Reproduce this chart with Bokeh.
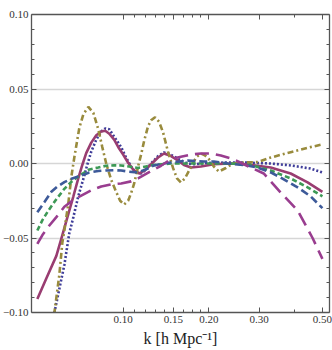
from bokeh.plotting import figure
from bokeh.models import FixedTicker, LogAxis, LinearAxis, CustomJSTickFormatter, Range1d
from bokeh.embed import file_html
from bokeh.resources import INLINE

# ---- data ----
k_solid = [0.0500, 0.0538, 0.0583, 0.0612, 0.0642, 0.0669, 0.0696, 0.0719, 0.0742, 0.0773,
           0.0805, 0.0838, 0.0865, 0.0894, 0.0930, 0.0968, 0.1000, 0.1041, 0.1084, 0.1137,
           0.1184, 0.1253, 0.1326, 0.1391, 0.1472, 0.1557, 0.1634, 0.1729, 0.1874, 0.2080,
           0.2386, 0.2735, 0.3292, 0.3868, 0.4436, 0.5000]
y_solid = [-0.091, -0.077, -0.062, -0.048, -0.034, -0.022, -0.010, -0.001, 0.007, 0.014,
           0.019, 0.0215, 0.022, 0.020, 0.016, 0.010, 0.006, 0.0005, -0.004, -0.0067,
           -0.005, -0.0005, 0.004, 0.0067, 0.005, 0.002, -0.001, -0.0027, -0.002, -0.0005,
           0.0, -0.0007, -0.0027, -0.0067, -0.0127, -0.019]

k_dotted = [0.0551, 0.0574, 0.0602, 0.0622, 0.0647, 0.0669, 0.0696, 0.0731, 0.0748, 0.0773,
            0.0805, 0.0838, 0.0865, 0.0894, 0.0930, 0.0968, 0.0984, 0.1024, 0.1066, 0.1093,
            0.1156, 0.1203, 0.1253, 0.1326, 0.1391, 0.1448, 0.1532, 0.1595, 0.1688, 0.1771,
            0.1874, 0.2080, 0.2586, 0.3292, 0.3868, 0.4092, 0.4543, 0.5000]
y_dotted = [-0.116, -0.100, -0.081, -0.068, -0.047, -0.036, -0.022, -0.008, -0.001, 0.008,
            0.016, 0.0215, 0.0235, 0.023, 0.018, 0.013, 0.011, 0.004, -0.002, -0.0047,
            -0.0067, -0.004, 0.000, 0.005, 0.0074, 0.0065, 0.004, 0.002, 0.0, -0.0005,
            0.0, 0.0005, 0.0007, 0.0, -0.0013, -0.002, -0.0034, -0.006]

k_olive = [0.0560, 0.0574, 0.0597, 0.0612, 0.0622, 0.0642, 0.0658, 0.0674, 0.0702, 0.0725,
           0.0755, 0.0786, 0.0818, 0.0845, 0.0872, 0.0908, 0.0945, 0.0976, 0.1008, 0.1041,
           0.1066, 0.1093, 0.1128, 0.1156, 0.1184, 0.1223, 0.1253, 0.1294, 0.1336, 0.1380,
           0.1436, 0.1496, 0.1545, 0.1595, 0.1647, 0.1701, 0.1757, 0.1800, 0.1874, 0.1935,
           0.1998, 0.2080, 0.2166, 0.2292, 0.2425, 0.2692, 0.2965, 0.3292, 0.3868, 0.4543,
           0.5000]
y_olive = [-0.120, -0.100, -0.075, -0.053, -0.045, -0.027, -0.009, 0.004, 0.024, 0.033,
           0.038, 0.034, 0.023, 0.011, 0.0, -0.011, -0.019, -0.025, -0.0275, -0.025,
           -0.020, -0.0134, -0.002, 0.006, 0.015, 0.025, 0.029, 0.031, 0.028, 0.021,
           0.008, -0.003, -0.010, -0.0127, -0.010, -0.005, 0.000, 0.004, 0.0067, 0.0055,
           0.003, -0.002, -0.0054, -0.003, 0.0, 0.0007, 0.001, 0.004, 0.0076, 0.011,
           0.0128]

k_green = [0.0500, 0.0521, 0.0547, 0.0583, 0.0622, 0.0669, 0.0713, 0.0761, 0.0818, 0.0872,
           0.0930, 0.0984, 0.1049, 0.1128, 0.1203, 0.1283, 0.1472, 0.1829, 0.2386, 0.2803,
           0.3292, 0.3868, 0.4436, 0.5000]
y_green = [-0.045, -0.038, -0.0315, -0.024, -0.017, -0.011, -0.0074, -0.004, -0.0027, -0.0015,
           -0.0012, -0.0013, -0.002, -0.003, -0.002, -0.001, 0.0, 0.0, 0.0, -0.001,
           -0.0047, -0.010, -0.016, -0.022]

k_dashed = [0.0500, 0.0529, 0.0560, 0.0588, 0.0622, 0.0663, 0.0713, 0.0761, 0.0818, 0.0872,
            0.0930, 0.0984, 0.1049, 0.1128, 0.1203, 0.1283, 0.1380, 0.1472, 0.1688, 0.1920,
            0.2080, 0.2328, 0.2649, 0.2965, 0.3292, 0.3568, 0.4092, 0.4543, 0.5000]
y_dashed = [-0.0327, -0.026, -0.019, -0.0155, -0.0125, -0.010, -0.008, -0.006, -0.005, -0.0047,
            -0.0045, -0.0047, -0.0055, -0.006, -0.004, -0.0013, 0.0, 0.0007, 0.002, 0.0013,
            0.0013, 0.0, -0.001, -0.0027, -0.006, -0.0094, -0.016, -0.022, -0.030]

k_long = [0.0500, 0.0521, 0.0551, 0.0583, 0.0622, 0.0663, 0.0713, 0.0773, 0.0838, 0.0908,
          0.0984, 0.1066, 0.1128, 0.1203, 0.1283, 0.1358, 0.1472, 0.1595, 0.1729, 0.1874,
          0.2031, 0.2201, 0.2386, 0.2586, 0.2803, 0.3112, 0.3292, 0.3568, 0.4092, 0.4617,
          0.5000]
y_long = [-0.054, -0.048, -0.0416, -0.036, -0.029, -0.025, -0.0215, -0.018, -0.0154, -0.014,
          -0.0134, -0.012, -0.010, -0.007, -0.004, -0.0015, 0.003, 0.0045, 0.006, 0.0067,
          0.0067, 0.0054, 0.0035, 0.0005, -0.0027, -0.0067, -0.012, -0.0195, -0.0315, -0.050,
          -0.064]

x_major = [0.10, 0.15, 0.20, 0.30, 0.50]
x_minor = [0.11, 0.12, 0.13, 0.14, 0.1625, 0.175, 0.1875, 0.40]
y_major = [-0.10, -0.05, 0.0, 0.05, 0.10]
y_minor = [-0.09, -0.08, -0.07, -0.06, -0.04, -0.03, -0.02, -0.01,
           0.01, 0.02, 0.03, 0.04, 0.06, 0.07, 0.08, 0.09]
y_grid = [-0.05, 0.0, 0.05]

FONT = "Liberation Serif"
AX = "#555555"

p = figure(width=332, height=350, x_axis_type="log",
           x_range=Range1d(0.0477, 0.5294), y_range=Range1d(-0.1, 0.1),
           output_backend="svg", toolbar_location=None,
           min_border_left=30, min_border_right=3, min_border_top=14, min_border_bottom=38)
p.outline_line_color = None
p.background_fill_color = "white"

bottom = p.below[0]
left = p.left[0]

xt = FixedTicker(ticks=x_major, minor_ticks=x_minor)
yt = FixedTicker(ticks=y_major, minor_ticks=y_minor)

bottom.ticker = xt
left.ticker = yt
p.xgrid.visible = False
p.ygrid.ticker = FixedTicker(ticks=y_grid)
p.ygrid.grid_line_color = "#d6d6d6"
p.ygrid.grid_line_width = 1.3

bottom.formatter = CustomJSTickFormatter(code="return tick.toFixed(2);")
left.formatter = CustomJSTickFormatter(
    code="return (tick < 0 ? '\u2212' : '') + Math.abs(tick).toFixed(2);")

blank = CustomJSTickFormatter(code="return '';")
top = LogAxis(ticker=xt, formatter=blank)
right = LinearAxis(ticker=yt, formatter=blank)
p.add_layout(top, "above")
p.add_layout(right, "right")

for ax in [bottom, left, top, right]:
    ax.axis_line_color = AX
    ax.axis_line_width = 1.3
    ax.major_tick_line_color = AX
    ax.minor_tick_line_color = AX
    ax.major_tick_in = 5
    ax.major_tick_out = 0
    ax.minor_tick_in = 3
    ax.minor_tick_out = 0
    ax.major_label_text_font = FONT
    ax.major_label_text_color = "#333333"
    ax.major_label_text_font_size = "11px"
    ax.major_label_standoff = 3

for ax in [top, right]:
    ax.major_label_standoff = 0

bottom.axis_label = "k [h Mpc\u207b\u00b9]"
bottom.axis_label_text_font = FONT
bottom.axis_label_text_font_style = "normal"
bottom.axis_label_text_font_size = "16px"
bottom.axis_label_text_color = "#222222"
bottom.axis_label_standoff = 4

W = 2.6
p.line(k_dotted, y_dotted, line_color="#3F3D99", line_width=W, line_dash="2 2")
p.line(k_solid, y_solid, line_color="#993D71", line_width=W)
p.line(k_olive, y_olive, line_color="#998B3D", line_width=W, line_dash="6 3 2 3")
p.line(k_green, y_green, line_color="#3D9956", line_width=W, line_dash="5 3")
p.line(k_dashed, y_dashed, line_color="#3D5A99", line_width=W, line_dash="8 4")
p.line(k_long, y_long, line_color="#993D8F", line_width=W, line_dash="14 7")

open("out.html", "w").write(file_html(p, INLINE))
